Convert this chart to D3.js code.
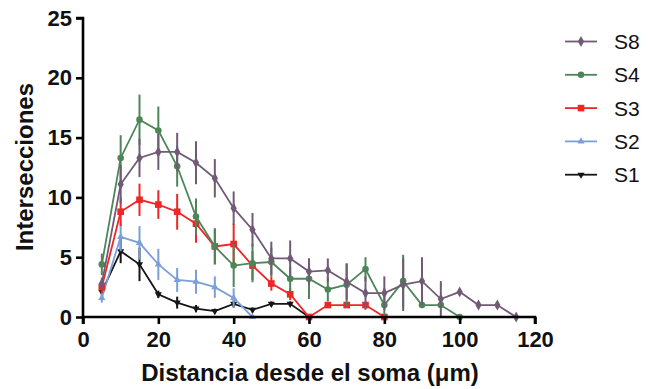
<!DOCTYPE html>
<html lang="en">
<head>
<meta charset="UTF-8">
<title>Intersecciones</title>
<script src="https://cdn.jsdelivr.net/npm/d3@7"></script>
<style>
    body { margin: 0; background: #fff; }
    text { font-family: "Liberation Sans", Arial, sans-serif; }
</style>
</head>
<body>
<script>

    // distance from soma (um)
    var dist = [5, 10, 15, 20, 25, 30, 35, 40, 45, 50, 55, 60, 65, 70, 75, 80, 85, 90, 95, 100, 105, 110, 115];

    // mean intersections per series
    var s8 = [2.8, 11.1, 13.3, 13.8, 13.8, 12.9, 11.6, 9.1, 7.3, 4.9, 4.9, 3.8, 3.9, 2.95, 2.0, 2.0, 2.7, 3.0, 1.5, 2.1, 1.0, 1.0, 0];
    var s4 = [4.4, 13.3, 16.5, 15.6, 12.6, 8.4, 5.9, 4.3, 4.5, 4.6, 3.2, 3.2, 2.3, 2.7, 4.0, 1.0, 3.0, 1.0, 1.0, 0];
    var s3 = [2.5, 8.8, 9.8, 9.4, 8.8, 7.8, 5.9, 6.1, 4.3, 2.8, 1.9, 0, 1.0, 1.0, 1.0, 0];
    var s2 = [1.6, 6.7, 6.2, 4.4, 3.1, 2.95, 2.5, 1.6, 0];
    var s1 = [2.1, 5.5, 4.4, 1.9, 1.2, 0.7, 0.5, 1.1, 0.6, 1.1, 1.1, 0];

    // error bars (SEM)
    var s8Err = [0.5, 1.6, 1.6, 1.5, 1.6, 1.8, 1.6, 1.4, 1.4, 1.4, 1.5, 1.1, 1.0, 1.5, 1.4, 1.4, 2.2, 2.0, 1.5, 0, 0, 0, 0];
    var s4Err = [0.9, 1.9, 2.1, 2.0, 1.7, 1.5, 1.5, 1.8, 1.6, 1.2, 1.0, 1.7, 1.0, 1.8, 1.0, 1.4, 2.2, 0, 0, 0];
    var s3Err = [0.5, 1.2, 1.35, 1.2, 1.5, 1.6, 1.5, 1.7, 1.2, 0.6, 0.5, 0, 0, 0, 0, 0];
    var s2Err = [0.4, 1.2, 1.4, 1.3, 1.0, 1.0, 0.9, 0.8, 0];
    var s1Err = [0.3, 1.0, 1.4, 0.3, 0.5, 0.3, 0.2, 0.3, 0.2, 0.2, 0.2, 0];

    var names = ["S8", "S4", "S3", "S2", "S1"];
    var colors = ["#715a76", "#4d8559", "#ee2626", "#7b9fd6", "#151515"];
    var symbols = [d3.symbolDiamond, d3.symbolCircle, d3.symbolSquare, d3.symbolTriangle, d3.symbolTriangle];
    var sizes = [34, 34, 44, 22, 22];
    var flips = [0, 0, 0, 0, 180];

    var xTicks = [0, 20, 40, 60, 80, 100, 120];
    var yTicks = [0, 5, 10, 15, 20, 25];

    var series = [
        { name: names[0], values: s8, err: s8Err },
        { name: names[1], values: s4, err: s4Err },
        { name: names[2], values: s3, err: s3Err },
        { name: names[3], values: s2, err: s2Err },
        { name: names[4], values: s1, err: s1Err }
    ];

    var width = 648, height = 389;
    var plotLeft = 83, plotRight = 535, plotTop = 18, plotBottom = 317;

    var svg = d3.select("body").append("svg")
        .attr("width", width)
        .attr("height", height);

    var x = d3.scaleLinear().domain([0, 120]).range([plotLeft, plotRight]);
    var y = d3.scaleLinear().domain([0, 25]).range([plotBottom, plotTop]);

    // draw series back to front (S1 drawn last on top)
    var gData = svg.append("g");
    series.slice().reverse().forEach(function (s) {
        var i = names.indexOf(s.name);
        var pts = s.values.map(function (v, k) { return { d: dist[k], v: v, e: s.err[k] }; });
        var g = gData.append("g");

        g.selectAll("line.err")
            .data(pts.filter(function (p) { return p.e > 0; }))
            .enter().append("line")
            .attr("x1", function (p) { return x(p.d); })
            .attr("x2", function (p) { return x(p.d); })
            .attr("y1", function (p) { return y(p.v + p.e); })
            .attr("y2", function (p) { return y(Math.max(0, p.v - p.e)); })
            .attr("stroke", colors[i])
            .attr("stroke-width", 2);

        g.append("path")
            .datum(pts)
            .attr("fill", "none")
            .attr("stroke", colors[i])
            .attr("stroke-width", 1.8)
            .attr("d", d3.line().x(function (p) { return x(p.d); }).y(function (p) { return y(p.v); }));

        g.selectAll("path.pt")
            .data(pts)
            .enter().append("path")
            .attr("transform", function (p) { return "translate(" + x(p.d) + "," + y(p.v) + ") rotate(" + flips[i] + ")"; })
            .attr("d", d3.symbol().type(symbols[i]).size(sizes[i]))
            .attr("fill", colors[i]);
    });

    // axes
    var xAxis = svg.append("g")
        .attr("transform", "translate(0," + plotBottom + ")")
        .call(d3.axisBottom(x).tickValues(xTicks).tickSize(7).tickPadding(7));
    var yAxis = svg.append("g")
        .attr("transform", "translate(" + plotLeft + ",0)")
        .call(d3.axisLeft(y).tickValues(yTicks).tickSize(7).tickPadding(4));

    [xAxis, yAxis].forEach(function (a) {
        a.select(".domain").attr("stroke", "#000").attr("stroke-width", 2.6);
        a.selectAll(".tick line").attr("stroke", "#000").attr("stroke-width", 2.6);
        a.selectAll(".tick text")
            .attr("fill", "#111")
            .style("font-size", "22px")
            .style("font-weight", "bold")
            .style("font-family", "'Liberation Sans', Arial, sans-serif");
    });
    xAxis.select(".domain").attr("d", "M" + plotLeft + ",7V0H" + plotRight + "V7");
    yAxis.select(".domain").attr("d", "M-7," + plotTop + "H0V" + plotBottom);

    // axis titles
    svg.append("text")
        .attr("x", 310)
        .attr("y", 381)
        .attr("text-anchor", "middle")
        .style("font-size", "24px")
        .style("font-weight", "bold")
        .attr("fill", "#111")
        .text("Distancia desde el soma (\u03bcm)");

    svg.append("text")
        .attr("transform", "translate(33,167) rotate(-90)")
        .attr("text-anchor", "middle")
        .style("font-size", "24px")
        .style("font-weight", "bold")
        .attr("fill", "#111")
        .text("Intersecciones");

    // legend
    var legend = svg.append("g").attr("transform", "translate(565,41.5)");
    var rows = legend.selectAll("g")
        .data(names)
        .enter().append("g")
        .attr("transform", function (d, i) { return "translate(0," + (i * 33.3) + ")"; });
    rows.append("line")
        .attr("x1", 0).attr("x2", 32)
        .attr("stroke", function (d, i) { return colors[i]; })
        .attr("stroke-width", 1.8);
    rows.append("path")
        .attr("transform", function (d, i) { return "translate(16,0) rotate(" + flips[i] + ")"; })
        .attr("d", function (d, i) { return d3.symbol().type(symbols[i]).size(sizes[i])(); })
        .attr("fill", function (d, i) { return colors[i]; });
    rows.append("text")
        .attr("x", 49)
        .attr("y", 7.5)
        .style("font-size", "21px")
        .attr("fill", "#111")
        .text(function (d) { return d; });

</script>
</body>
</html>
